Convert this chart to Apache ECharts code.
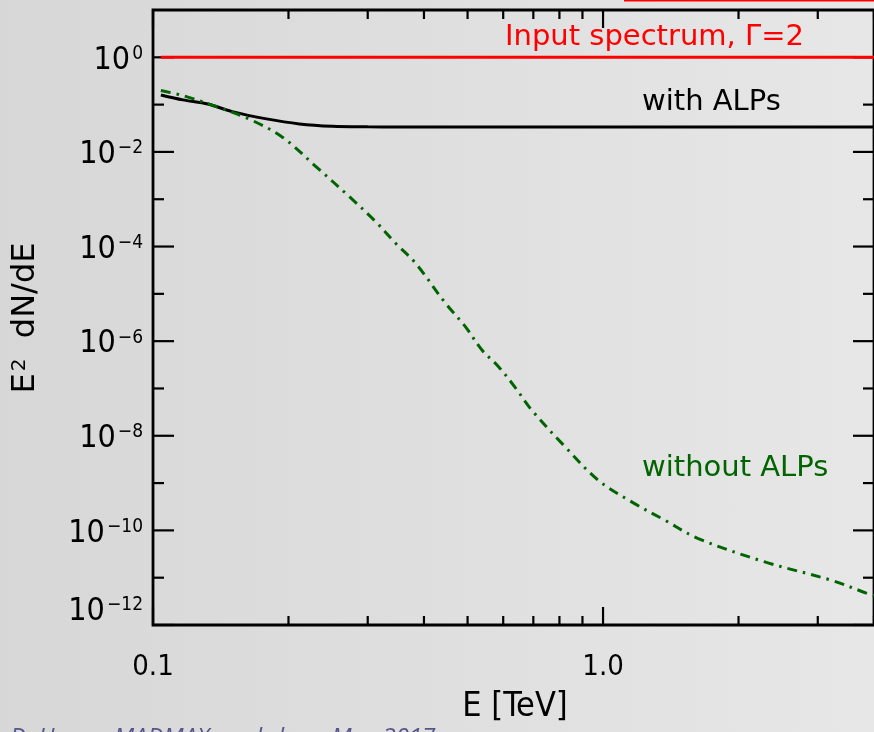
<!DOCTYPE html>
<html>
<head>
<meta charset="utf-8">
<script src="https://cdn.jsdelivr.net/npm/echarts@6/dist/echarts.min.js"></script>
<style>
  html, body { margin: 0; padding: 0; }
  #chart { width: 874px; height: 732px; background: linear-gradient(to right, #d7d7d7 0%, #dedede 45%, #e7e7e7 100%); }
</style>
</head>
<body>
<div id="chart"></div>
<script>
// ---- data ----
const X_MIN = 0.1, X_MAX = 4.0;
const Y_MIN = 1e-12, Y_MAX = 10;

const E_INPUT = [0.1041, 4.0];
const F_INPUT = [1, 1];

const E_WITH = [0.1041, 0.1165, 0.1323, 0.150, 0.1787, 0.2115, 0.2503, 0.300, 0.352, 0.5, 1.0, 2.0, 4.0];
const F_WITH = [0.160, 0.126, 0.103, 0.0711, 0.0499, 0.0391, 0.0349, 0.0340, 0.0338, 0.0338, 0.0338, 0.0338, 0.0338];

const E_WITHOUT = [0.1041, 0.1165, 0.1383, 0.1639, 0.1939, 0.2302, 0.2729, 0.3125, 0.3461, 0.3832,
                   0.4466, 0.4943, 0.5381, 0.5858, 0.6389, 0.6939, 0.8230, 0.9748, 1.155, 1.369,
                   1.623, 2.279, 3.200, 3.858, 4.0];
const F_WITHOUT = [0.198, 0.155, 0.0908, 0.0491, 0.0205, 4.89e-3, 1.14e-3, 3.36e-4, 1.17e-4, 4.44e-5,
                   6.32e-6, 2.03e-6, 6.52e-7, 2.89e-7, 1.03e-7, 3.51e-8, 5.89e-9, 1.16e-9, 4.05e-10, 1.66e-10,
                   6.81e-11, 2.18e-11, 8.95e-12, 4.68e-12, 4.2e-12];

const X_MAJOR_TICKS = [0.1, 1.0];
const X_MINOR_TICKS = [0.2, 0.3, 0.4, 0.5, 0.6, 0.7, 0.8, 0.9, 2, 3, 4];
const X_TICK_LABELS = ['0.1', '1.0'];

const Y_MAJOR_EXP = [-12, -10, -8, -6, -4, -2, 0];
const Y_MINOR_EXP = [-11, -9, -7, -5, -3, -1];

// ---- chart ----
const chart = echarts.init(document.getElementById('chart'), null, { renderer: 'canvas' });
const NARROW = "'Liberation Sans Narrow', 'DejaVu Sans Condensed', sans-serif";
const COND = "'DejaVu Sans Condensed', 'Liberation Sans Narrow', sans-serif";
const SANS = "'DejaVu Sans', sans-serif";

function pairs(xs, ys) { return xs.map((x, i) => [x, ys[i]]); }

function xTickRender(len) {
  return function (params, api) {
    const v = api.value(0);
    const b = api.coord([v, Y_MIN]);
    const t = api.coord([v, Y_MAX]);
    const st = { stroke: '#000', lineWidth: 2.2 };
    return { type: 'group', children: [
      { type: 'line', shape: { x1: b[0], y1: b[1], x2: b[0], y2: b[1] - len }, style: st },
      { type: 'line', shape: { x1: t[0], y1: t[1], x2: t[0], y2: t[1] + len }, style: st }
    ]};
  };
}
function yTickRender(len) {
  return function (params, api) {
    const v = api.value(1);
    const l = api.coord([X_MIN, v]);
    const r = api.coord([X_MAX, v]);
    const st = { stroke: '#000', lineWidth: 2.2 };
    return { type: 'group', children: [
      { type: 'line', shape: { x1: l[0], y1: l[1], x2: l[0] + len, y2: l[1] }, style: st },
      { type: 'line', shape: { x1: r[0], y1: r[1], x2: r[0] - len, y2: r[1] }, style: st }
    ]};
  };
}

const option = {
  backgroundColor: 'transparent',
  animation: false,
  grid: { left: 153, top: 10, width: 724, height: 615, show: true,
          borderColor: '#000', borderWidth: 2.8, backgroundColor: 'transparent' },
  xAxis: {
    type: 'log', logBase: 10, min: X_MIN, max: X_MAX,
    axisLine: { show: false }, axisTick: { show: false }, axisLabel: { show: false },
    splitLine: { show: false }, minorTick: { show: false }
  },
  yAxis: {
    type: 'log', logBase: 10, min: Y_MIN, max: Y_MAX,
    axisLine: { show: false }, axisTick: { show: false }, axisLabel: { show: false },
    splitLine: { show: false }, minorTick: { show: false }
  },
  series: [
    { name: 'Input spectrum', type: 'line', data: pairs(E_INPUT, F_INPUT), showSymbol: false,
      lineStyle: { color: '#ff0000', width: 3 }, silent: true },
    { name: 'with ALPs', type: 'line', data: pairs(E_WITH, F_WITH), showSymbol: false, smooth: 0.3,
      lineStyle: { color: '#000000', width: 3 }, silent: true },
    { name: 'without ALPs', type: 'line', data: pairs(E_WITHOUT, F_WITHOUT), showSymbol: false, smooth: 0.35,
      lineStyle: { color: '#006400', width: 3, type: [10, 6, 2.5, 6] }, silent: true },
    { type: 'custom', clip: false, silent: true, renderItem: xTickRender(18),
      data: X_MAJOR_TICKS.map(v => [v, 1]) },
    { type: 'custom', clip: false, silent: true, renderItem: xTickRender(9),
      data: X_MINOR_TICKS.map(v => [v, 1]) },
    { type: 'custom', clip: false, silent: true, renderItem: yTickRender(21),
      data: Y_MAJOR_EXP.map(e => [1, Math.pow(10, e)]) },
    { type: 'custom', clip: false, silent: true, renderItem: yTickRender(11),
      data: Y_MINOR_EXP.map(e => [1, Math.pow(10, e)]) },
    // x tick labels
    { type: 'custom', clip: false, silent: true,
      data: X_MAJOR_TICKS.map(v => [v, 1]),
      renderItem: function (params, api) {
        const v = api.value(0);
        const p = api.coord([v, Y_MIN]);
        return { type: 'text', x: p[0], y: p[1] + 42,
          style: { text: X_TICK_LABELS[params.dataIndex], fontSize: 29, fontFamily: COND,
                   fill: '#000', align: 'center', verticalAlign: 'middle' } };
      } },
    // y tick labels
    { type: 'custom', clip: false, silent: true,
      data: Y_MAJOR_EXP.map(e => [1, Math.pow(10, e)]),
      renderItem: function (params, api) {
        const e = Y_MAJOR_EXP[params.dataIndex];
        const v = api.value(1);
        const p = api.coord([X_MIN, v]);
        const dy = (v <= Y_MIN * 1.0001) ? -13 : 3;
        const sup = e < 0 ? '\u2212' + Math.abs(e) : String(e);
        return { type: 'text', x: p[0] - 10, y: p[1] + dy,
          style: { text: '{b|10}{s|' + sup + '}', align: 'right', verticalAlign: 'middle', fill: '#000',
            rich: {
              b: { fontSize: 32, lineHeight: 32, fontFamily: NARROW, fill: '#000' },
              s: { fontSize: 19, lineHeight: 20, fontFamily: NARROW, fill: '#000', verticalAlign: 'top', padding: [0, 0, 0, 2] }
            } } };
      } }
  ],
  graphic: [
    { type: 'line', shape: { x1: 624, y1: 0.5, x2: 874, y2: 0.5 }, style: { stroke: '#ff0000', lineWidth: 2 }, silent: true },
    { type: 'text', left: 505, top: 23, silent: true,
      style: { text: 'Input spectrum, \u0393=2', fontSize: 29, fontFamily: SANS, fill: '#ff0000' } },
    { type: 'text', left: 642, top: 88, silent: true,
      style: { text: 'with ALPs', fontSize: 29, fontFamily: SANS, fill: '#000000' } },
    { type: 'text', left: 642, top: 454, silent: true,
      style: { text: 'without ALPs', fontSize: 29, fontFamily: SANS, fill: '#006400' } },
    { type: 'text', x: 515, y: 690, silent: true,
      style: { text: 'E [TeV]', fontSize: 34, fontFamily: COND, fill: '#000', align: 'center', verticalAlign: 'top' } },
    { type: 'text', x: 26, y: 318, rotation: Math.PI / 2, silent: true,
      style: { text: '{a|E}{s|2}{a|  dN/dE}', align: 'center', verticalAlign: 'middle', fill: '#000',
        rich: {
          a: { fontSize: 32, lineHeight: 32, fontFamily: SANS, fill: '#000' },
          s: { fontSize: 20, lineHeight: 20, fontFamily: SANS, fill: '#000', verticalAlign: 'top', padding: [0, 0, 0, 2] }
        } } },
    { type: 'text', left: 10, top: 726, silent: true,
      style: { text: 'D. Horns, MADMAX workshop, May 2017', fontSize: 24, fontStyle: 'italic',
               fontFamily: "'Open Sans', sans-serif", fill: '#55558a' } }
  ]
};
chart.setOption(option);
</script>
</body>
</html>
